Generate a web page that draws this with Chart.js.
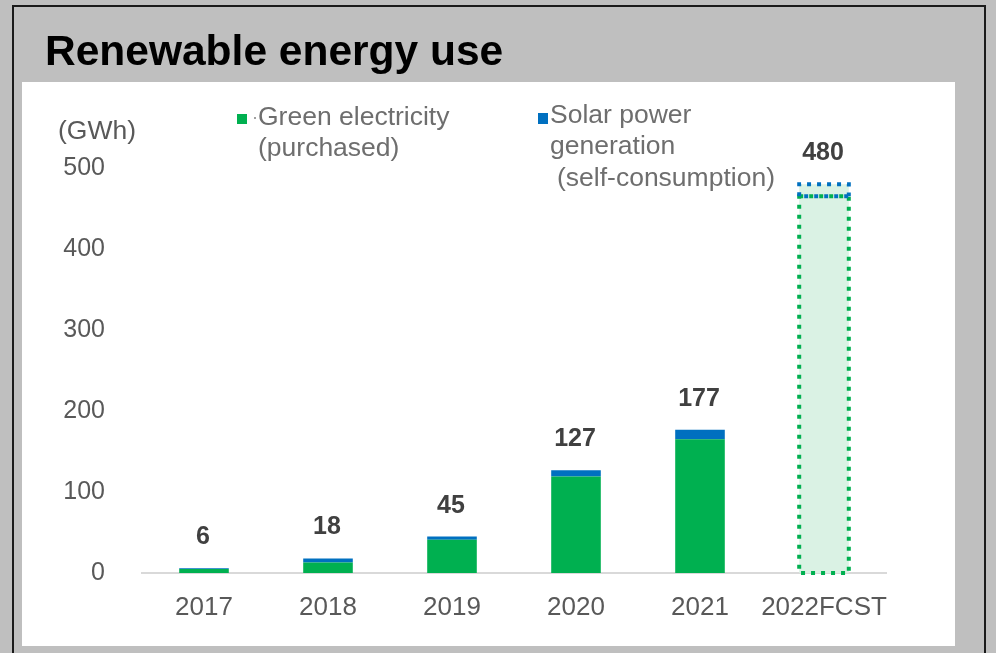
<!DOCTYPE html>
<html>
<head>
<meta charset="utf-8">
<title>Renewable energy use</title>
<script src="https://cdn.jsdelivr.net/npm/chart.js@4.4.1/dist/chart.umd.min.js"></script>
<style>
  html, body { margin: 0; padding: 0; background: #bfbfbf; }
  canvas { display: block; }
</style>
</head>
<body>
<canvas id="energyChart" width="996" height="653"></canvas>
<script>
// Chart data
const years = ['2017', '2018', '2019', '2020', '2021', '2022FCST'];
const greenElectricity = [5, 13, 41, 119, 165, 465];
const solarPower = [1, 5, 4, 8, 12, 15];
const totals = [6, 18, 45, 127, 177, 480];
const yTicks = [0, 100, 200, 300, 400, 500];

const FONT = '"Liberation Sans", Arial, sans-serif';
const GREEN = '#00b050';
const BLUE = '#0070c0';
const PALE = '#daf2e4';
const FCST_INDEX = years.length - 1;

// grey frame, white panel and title behind the chart
const framePlugin = {
	id: 'frame',
	beforeDraw(chart) {
		const ctx = chart.ctx;
		ctx.save();
		ctx.fillStyle = '#bfbfbf';
		ctx.fillRect(0, 0, chart.width, chart.height);
		ctx.strokeStyle = '#1a1a1a';
		ctx.lineWidth = 2;
		ctx.beginPath();
		ctx.moveTo(13, chart.height + 2);
		ctx.lineTo(13, 6);
		ctx.lineTo(985, 6);
		ctx.lineTo(985, chart.height + 2);
		ctx.stroke();
		ctx.fillStyle = '#ffffff';
		ctx.fillRect(22, 82, 933, 564);
		ctx.fillStyle = '#000000';
		ctx.font = 'bold 42.5px ' + FONT;
		ctx.textBaseline = 'alphabetic';
		ctx.fillText('Renewable energy use', 45, 65);
		ctx.restore();
	}
};

// dotted outline for the forecast bar
const forecastPlugin = {
	id: 'forecast',
	afterDatasetsDraw(chart) {
		const ctx = chart.ctx;
		const g = chart.getDatasetMeta(0).data[FCST_INDEX];
		const s = chart.getDatasetMeta(1).data[FCST_INDEX];
		ctx.save();
		ctx.lineWidth = 4;
		ctx.setLineDash([4, 6]);
		ctx.strokeStyle = GREEN;
		ctx.strokeRect(g.x - g.width / 2, g.y, g.width, g.base - g.y);
		ctx.strokeStyle = BLUE;
		ctx.beginPath();
		ctx.moveTo(s.x - s.width / 2, s.base);
		ctx.lineTo(s.x - s.width / 2, s.y);
		ctx.lineTo(s.x + s.width / 2, s.y);
		ctx.lineTo(s.x + s.width / 2, s.base);
		ctx.stroke();
		ctx.lineDashOffset = 5;
		ctx.beginPath();
		ctx.moveTo(s.x - s.width / 2, s.base);
		ctx.lineTo(s.x + s.width / 2, s.base);
		ctx.stroke();
		ctx.restore();
	}
};

// totals above bars, unit label, legend text
const labelsPlugin = {
	id: 'labels',
	afterDraw(chart) {
		const ctx = chart.ctx;
		const top = chart.getDatasetMeta(1).data;
		ctx.save();
		ctx.font = 'bold 25px ' + FONT;
		ctx.fillStyle = '#404040';
		ctx.textAlign = 'center';
		ctx.textBaseline = 'alphabetic';
		top.forEach((bar, i) => {
			ctx.fillText(String(totals[i]), bar.x - 1, bar.y - 24);
		});

		ctx.textAlign = 'left';
		ctx.textBaseline = 'middle';
		ctx.font = '26.5px ' + FONT;
		ctx.fillStyle = '#595959';
		ctx.fillText('(GWh)', 58, 132);

		ctx.fillStyle = GREEN;
		ctx.fillRect(237, 114, 10, 10);
		ctx.fillStyle = BLUE;
		ctx.fillRect(538, 113, 10, 11);
		ctx.fillStyle = '#a0a0a0';
		ctx.fillRect(254, 117, 2, 2);

		ctx.fillStyle = '#6e6e6e';
		ctx.fillText('Green electricity', 258, 118);
		ctx.fillText('(purchased)', 258, 149);
		ctx.fillText('Solar power', 550, 116);
		ctx.fillText('generation', 550, 147);
		ctx.fillText('(self-consumption)', 557, 179);
		ctx.restore();
	}
};

new Chart(document.getElementById('energyChart'), {
	type: 'bar',
	data: {
		labels: years,
		datasets: [{
			label: 'Green electricity (purchased)',
			data: greenElectricity,
			backgroundColor: years.map((y, i) => i === FCST_INDEX ? PALE : GREEN),
			borderWidth: 0
		}, {
			label: 'Solar power generation (self-consumption)',
			data: solarPower,
			backgroundColor: years.map((y, i) => i === FCST_INDEX ? PALE : BLUE),
			borderWidth: 0
		}]
	},
	options: {
		responsive: false,
		animation: false,
		devicePixelRatio: 1,
		layout: {
			padding: { left: 0, right: 110, top: 168, bottom: 0 }
		},
		datasets: {
			bar: { categoryPercentage: 1, barPercentage: 0.4 }
		},
		plugins: {
			legend: { display: false },
			tooltip: { enabled: false },
			title: { display: false }
		},
		scales: {
			x: {
				stacked: true,
				grid: { display: false, drawTicks: false },
				border: { display: true, color: '#d9d9d9', width: 2 },
				ticks: {
					color: '#595959',
					font: { family: FONT, size: 26 },
					padding: 19,
					maxRotation: 0,
					autoSkip: false
				},
				afterFit(scale) { scale.height = 80; }
			},
			y: {
				stacked: true,
				min: 0,
				max: 500,
				grid: { display: false, drawTicks: false },
				border: { display: false },
				afterBuildTicks(scale) {
					scale.ticks = yTicks.map(v => ({ value: v }));
				},
				ticks: {
					color: '#595959',
					font: { family: FONT, size: 25 },
					padding: 37
				},
				afterFit(scale) { scale.width = 142; }
			}
		}
	},
	plugins: [framePlugin, forecastPlugin, labelsPlugin]
});
</script>
</body>
</html>
